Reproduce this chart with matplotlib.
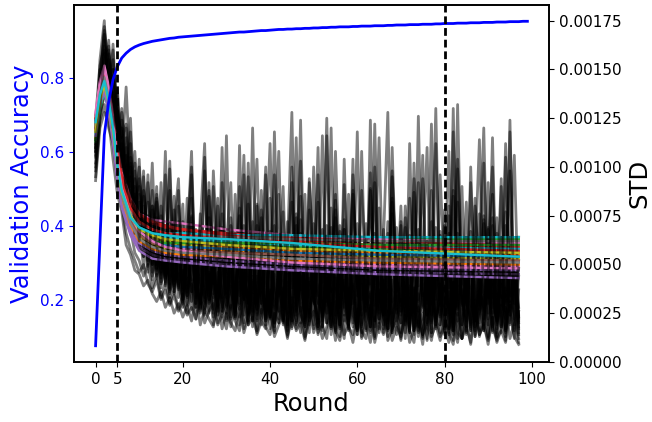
import matplotlib
matplotlib.use("Agg")
import matplotlib.pyplot as plt
import numpy as np

# ---------------- data ----------------
rounds_acc = list(range(100))
val_acc = [0.077, 0.36, 0.645, 0.735, 0.795, 0.83, 0.853, 0.866, 0.876, 0.883,
           0.888, 0.892, 0.895, 0.898, 0.900, 0.902, 0.904, 0.906, 0.907, 0.909,
           0.910, 0.911, 0.912, 0.913, 0.914, 0.915, 0.916, 0.917, 0.918, 0.919,
           0.920, 0.921, 0.922, 0.923, 0.923, 0.924, 0.925, 0.926, 0.927, 0.927,
           0.928, 0.929, 0.930, 0.930, 0.931, 0.931, 0.932, 0.932, 0.933, 0.933,
           0.934, 0.934, 0.935, 0.935, 0.936, 0.936, 0.937, 0.937, 0.937, 0.938,
           0.938, 0.939, 0.939, 0.939, 0.940, 0.940, 0.940, 0.941, 0.941, 0.942,
           0.942, 0.942, 0.943, 0.943, 0.943, 0.944, 0.944, 0.944, 0.945, 0.945,
           0.946, 0.946, 0.946, 0.947, 0.947, 0.947, 0.948, 0.948, 0.948, 0.949,
           0.949, 0.949, 0.950, 0.950, 0.950, 0.951, 0.951, 0.951, 0.952, 0.952]

rounds_std = list(range(98))
# per-round STD of individual runs, in units of 1e-5
std_runs = [
    [105,148,170,152,128,110,96,78,88,62, 70,48,66,42,58,38,61,33,52,40, 28,55,36,47,25,62,31,44,20,51,
     35,22,48,30,66,19,41,27,58,24, 37,16,52,29,45,21,70,26,34,15, 49,31,24,57,18,43,28,64,22,39,
     14,53,33,26,47,20,36,58,17,42, 29,61,23,38,13,50,32,45,19,35, 56,25,41,12,48,30,67,21,37,27,
     52,16,44,33,59,20,39,14],
    [118,135,160,142,150,125,118,92,105,75, 90,58,82,50,74,46,68,40,60,37, 72,34,55,30,64,27,49,35,80,26,
     45,58,23,67,32,51,21,43,74,28, 55,20,39,62,25,48,33,85,22,46, 30,57,18,41,69,24,52,35,19,60,
     38,27,71,22,44,55,17,49,31,63, 24,40,53,16,68,34,46,21,58,29, 43,75,20,50,36,18,62,41,27,54,
     33,70,19,47,26,57,38,22],
    [112,155,175,130,163,120,104,141,96,80, 60,95,52,88,45,75,40,99,36,63, 31,84,42,57,28,105,34,50,26,92,
     38,60,24,111,33,48,21,70,30,96, 23,118,35,53,19,82,27,66,40,25, 100,22,58,31,120,20,45,73,18,88,
     34,54,16,124,29,61,37,21,95,43, 26,69,15,87,32,52,110,20,47,36, 78,17,130,28,59,23,92,39,16,71,
     30,115,21,56,34,98,19,64],
    [95,125,140,128,118,98,85,72,68,56, 52,44,50,38,45,33,41,30,37,27, 35,25,40,22,33,24,45,19,31,23,
     38,18,29,41,17,27,35,16,43,22, 30,15,39,24,14,33,20,46,13,28, 36,18,25,42,14,31,22,12,37,26,
     17,40,21,29,13,35,24,44,15,27, 11,33,20,38,16,25,12,41,23,30, 14,36,19,10,28,45,17,32,13,24,
     39,18,11,34,22,29,12,37],
    [122,140,150,158,135,128,110,100,82,90, 66,80,55,72,48,65,54,43,70,39, 61,47,36,68,41,33,59,45,30,76,
     40,52,28,63,35,47,26,81,38,55, 24,66,43,31,58,23,74,37,50,21, 63,34,46,20,79,39,28,56,19,48,
     71,32,42,18,60,27,53,36,84,22, 45,30,65,17,51,40,24,72,33,19, 57,38,88,21,46,29,62,16,43,35,
     68,25,50,18,77,31,41,23],
    [100,130,165,145,122,138,92,115,74,98, 63,85,49,78,44,92,39,69,35,58, 81,30,47,66,27,53,88,25,42,62,
     22,70,36,49,20,95,31,57,43,19, 64,33,26,77,18,50,40,103,21,37, 55,17,68,29,45,86,19,39,61,24,
     16,58,35,97,22,47,30,72,15,41, 63,26,18,54,39,106,20,45,32,67, 15,50,28,82,19,40,59,14,36,73,
     25,48,17,90,31,55,21,44],
    [93,120,128,124,104,86,77,60,55,47, 45,39,42,35,31,36,28,33,25,30, 23,29,21,34,19,27,22,18,31,17,
     25,20,16,28,15,23,30,14,21,17, 26,13,19,24,12,29,16,20,11,27, 15,22,12,18,25,11,31,14,19,10,
     23,16,12,28,10,20,14,26,11,18, 13,24,10,17,21,9,27,13,19,11, 22,15,9,25,12,18,10,29,14,20,
     9,23,12,16,10,26,13,9],
    [108,145,155,160,140,115,120,88,100,70, 82,60,75,51,86,46,62,42,78,38, 56,34,71,43,31,64,37,52,29,69,
     33,46,27,75,36,25,58,30,48,23, 84,28,41,22,61,35,21,53,26,78, 33,20,47,64,24,38,19,91,29,44,
     22,57,31,18,66,25,42,17,53,36, 80,21,39,16,59,28,47,15,69,34, 24,52,16,99,30,41,20,63,27,17,
     46,33,74,19,38,24,58,15],
    [115,150,140,165,125,105,130,95,125,72, 100,64,55,102,48,80,44,103,40,72, 37,64,100,33,58,30,85,48,28,110,
     35,54,26,90,42,24,120,31,60,22, 45,96,27,21,72,38,115,20,52,34, 19,82,41,125,25,47,18,68,30,104,
     23,50,17,88,36,22,62,128,20,44, 31,74,16,56,92,26,40,15,112,35, 23,64,18,132,29,48,19,84,37,16,
     58,100,25,40,17,118,30,52],
    [110,138,145,150,145,122,100,106,78,84, 58,70,50,62,43,56,49,37,53,33, 47,29,58,38,26,50,32,43,24,55,
     28,39,22,48,33,20,44,27,60,21, 36,18,52,30,41,17,46,25,19,57, 32,23,16,43,37,15,53,28,21,40,
     14,48,26,35,18,62,24,13,42,30, 20,51,15,37,27,12,45,33,19,58, 23,14,41,29,12,50,35,18,26,44,
     13,36,21,54,16,31,25,12],
    [102,128,136,146,132,108,112,82,95,64, 76,54,68,46,60,52,41,64,36,50, 32,61,40,28,53,35,25,66,31,44,
     57,23,37,29,70,21,42,34,19,62, 27,48,20,39,55,18,33,73,23,41, 17,59,31,25,46,16,67,28,38,20,
     52,15,34,44,22,79,19,37,29,14, 48,26,60,18,35,13,55,24,42,31, 17,66,22,39,12,51,30,21,76,16,
     34,45,13,61,27,19,49,28],
    [120,142,168,135,150,118,128,98,90,108, 70,88,62,58,82,45,70,52,42,80, 38,55,75,34,48,31,92,40,58,28,
     66,37,26,79,45,30,53,24,88,39, 22,60,34,47,21,100,29,56,40,19, 71,36,26,52,18,83,43,24,64,33,
     17,108,30,46,21,58,38,16,76,27, 50,35,19,94,26,43,57,17,40,65, 31,15,85,24,48,37,16,60,29,102,
     22,44,33,15,70,27,53,18],
    [98,124,132,120,112,94,80,66,58,52, 46,50,40,36,42,32,37,29,34,26, 31,24,28,22,35,20,26,30,19,24,
     17,29,21,16,33,19,23,15,27,18, 14,25,20,31,13,22,17,28,12,21, 26,15,19,12,30,16,11,24,18,14,
     27,12,20,10,23,15,32,11,17,21, 12,25,16,10,28,14,19,11,24,13, 18,10,30,15,12,22,9,26,14,19,
     11,23,10,17,28,12,20,10],
    [125,152,162,140,155,132,115,122,92,80, 94,62,72,56,90,48,66,44,85,40, 60,36,74,45,32,98,38,55,29,68,
     42,27,86,34,50,25,63,104,30,46, 23,70,37,21,58,92,26,44,20,64, 35,110,23,50,19,74,30,42,17,96,
     40,24,60,18,47,115,28,36,16,69, 33,22,84,45,15,57,30,122,21,39, 62,18,48,27,90,16,54,34,20,75,
     43,15,66,29,105,24,47,17],
    [115,132,148,155,126,140,105,96,102,76, 68,76,57,66,50,58,43,61,39,51, 45,33,57,37,30,49,41,27,61,34,
     25,52,39,23,45,31,64,22,40,28, 55,20,35,47,19,30,58,24,18,43, 33,62,21,38,17,50,29,45,16,36,
     57,20,31,15,48,39,24,66,18,34, 15,44,27,53,20,14,38,30,61,19, 42,25,14,56,33,21,47,13,37,28,
     64,18,35,24,13,51,30,20],
    [106,138,158,150,132,120,98,110,84,94, 64,72,53,80,47,63,42,71,38,56, 35,66,31,50,42,28,74,33,46,26,
     60,38,24,55,32,81,22,44,35,21, 67,29,49,20,40,63,19,36,86,23, 45,18,58,32,27,17,70,39,22,51,
     16,44,30,89,21,37,15,56,34,25, 72,19,46,14,61,33,24,50,18,40, 28,80,16,43,36,14,59,26,45,19,
     69,31,22,49,15,38,60,23],
    [110,144,152,142,160,112,108,90,78,86, 60,54,68,44,56,40,52,35,47,45, 30,43,27,52,33,25,46,23,39,30,
     21,48,28,19,42,34,18,56,25,32, 17,45,22,38,16,51,29,15,41,24, 34,14,47,20,55,26,13,39,31,18,
     44,13,28,36,12,50,23,17,58,21, 32,12,43,26,18,35,11,49,22,15, 38,27,11,45,19,31,53,13,25,34,
     12,42,20,29,11,47,16,26],
    [118,136,146,128,138,110,124,86,112,68, 86,64,92,50,71,60,45,88,42,62, 55,38,84,35,63,47,32,90,37,52,
     29,74,41,27,96,33,58,25,78,44, 23,62,108,28,48,21,76,38,26,94, 31,54,20,116,36,44,19,68,27,86,
     42,18,63,33,100,22,50,17,82,39, 26,58,16,102,31,45,20,88,37,24, 70,17,118,29,52,35,16,80,43,22,
     92,28,57,18,112,34,46,21],
    [108,140,172,148,136,126,112,92,118,66, 104,58,96,50,84,43,108,38,70,94, 34,62,108,30,76,41,26,98,52,33,
     116,28,66,45,24,102,36,80,22,58, 112,27,44,90,20,64,33,124,23,50, 38,96,18,70,28,108,42,21,86,30,
     118,19,55,40,92,17,68,26,110,35, 20,80,48,16,126,29,62,38,17,96, 44,108,21,66,32,15,100,27,58,120,
     19,74,36,94,16,55,106,24],
    [114,130,158,162,120,132,100,120,82,102, 62,98,46,80,60,41,96,36,62,88, 32,50,96,28,70,112,30,46,84,25,
     60,92,23,48,106,30,72,21,54,100, 26,40,86,19,60,128,24,46,18,92, 56,30,116,20,44,78,17,104,33,62,
     24,88,45,16,122,31,57,20,98,38, 70,15,112,27,50,94,19,42,130,23, 60,34,16,104,40,82,18,53,114,26,
     45,86,15,64,30,124,22,48],
]

# smoothed (running) STD per run, sampled at these rounds, in units of 1e-5
smooth_rounds = [0, 1, 2, 3, 4, 5, 6, 8, 10, 13, 16, 20, 30, 45, 65, 97]
smooth_runs = [
    [120,136,146,137,121,104,90,77,69,65,63,62,61,60,58,57],
    [117,133,141,133,118,100,86,73,65,61,59,58,57,56,54,53],
    [113,130,139,131,116,99,85,72,66,64,64,64,64,64,63,63],
    [124,140,149,140,125,108,95,82,75,71,69,68,66,64,62,60],
    [119,134,142,132,114,95,81,67,59,55,53,52,50,48,46,45],
    [122,138,145,136,120,102,87,74,66,62,60,58,56,55,53,52],
    [127,143,151,142,127,110,97,84,76,73,72,71,68,65,63,61],
    [125,141,150,140,123,105,90,76,68,64,62,61,60,58,56,55],
    [118,135,143,134,118,100,86,72,64,60,58,57,55,53,51,50],
    [116,131,138,130,115,98,85,73,68,66,66,66,65,65,64,64],
    [121,137,144,134,117,99,84,70,62,58,56,55,54,53,52,51],
    [115,132,140,131,116,99,86,74,67,63,61,60,59,57,56,55],
    [119,135,143,135,120,103,89,76,68,64,62,61,60,59,58,58],
    [126,142,150,141,126,109,96,83,76,72,70,68,65,62,60,59],
    [120,136,143,133,116,97,83,69,61,57,55,54,52,50,48,47],
    [123,139,147,138,122,104,89,75,67,63,62,61,60,58,57,56],
    [128,144,152,142,124,105,90,76,68,63,60,58,55,52,50,49],
    [118,134,142,134,119,102,89,77,71,68,66,65,64,63,62,62],
    [121,137,145,136,120,102,88,75,68,64,62,60,58,56,54,53],
    [117,133,141,132,117,100,87,75,69,66,64,63,62,60,59,58],
    [124,139,147,137,121,103,88,74,66,62,60,59,58,56,55,54],
    [119,136,144,134,117,99,84,70,62,58,56,55,54,52,51,50],
    [114,131,140,132,117,100,86,73,66,62,61,61,61,61,60,60],
    [125,141,149,139,123,106,92,79,72,68,66,65,63,61,59,57],
    [116,132,139,129,112,93,79,65,57,53,52,51,49,47,45,43],
    [120,136,144,135,119,101,87,73,65,61,59,57,56,55,53,52],
    [126,142,150,140,123,104,89,75,67,62,59,57,54,51,49,48],
    [122,138,146,136,119,100,85,71,63,59,57,56,55,53,52,51],
    [118,134,142,133,118,101,87,75,68,65,63,62,60,58,57,56],
    [123,137,144,134,120,101,88,74,69,66,65,64,63,61,57,54],
]
std_unit = 1e-5

xticks = [0, 5, 20, 40, 60, 80, 100]
vlines = [5, 80]

# ---------------- plot ----------------
fig = plt.figure(figsize=(6.52, 4.22), dpi=100)
ax1 = fig.add_axes([0.1135, 0.1422, 0.7285, 0.8458])
ax2 = ax1.twinx()

cycle = plt.rcParams['axes.prop_cycle'].by_key()['color']
n_first = 14                         # noisy runs drawn beneath all smoothed curves
for run in std_runs[:n_first]:
    ax2.plot(rounds_std, np.array(run) * std_unit, color='black', alpha=0.5, lw=2.0)
rest = std_runs[n_first:]
n_col = len(smooth_runs)
next_black = 0
for i, run in enumerate(smooth_runs):
    target = (i + 1) * len(rest) // n_col
    while next_black < target:
        ax2.plot(rounds_std, np.array(rest[next_black]) * std_unit,
                 color='black', alpha=0.5, lw=2.0)
        next_black += 1
    ax2.plot(smooth_rounds, np.array(run) * std_unit, lw=1.7,
             color=cycle[i % len(cycle)])

ax1.plot(rounds_acc, val_acc, color='blue', lw=2.0)
for v in vlines:
    ax1.axvline(v, color='black', ls='--', lw=2.0, dashes=(2.8, 1.4))

ax1.set_zorder(ax2.get_zorder() + 1)
ax1.patch.set_visible(False)

ax2.set_ylim(0, 0.00183)
ax1.set_xticks(xticks)
ax1.set_xlabel('Round', fontsize=17.5)
ax1.set_ylabel('Validation Accuracy', color='blue', fontsize=17.5)
ax2.set_ylabel('STD', fontsize=17.5)
ax1.tick_params(axis='y', colors='blue', labelsize=11)
ax1.tick_params(axis='x', labelsize=11)
ax2.tick_params(axis='y', labelsize=11)
for a in (ax1, ax2):
    for s in a.spines.values():
        s.set_linewidth(1.2)

fig.savefig('out.png', dpi=100)
